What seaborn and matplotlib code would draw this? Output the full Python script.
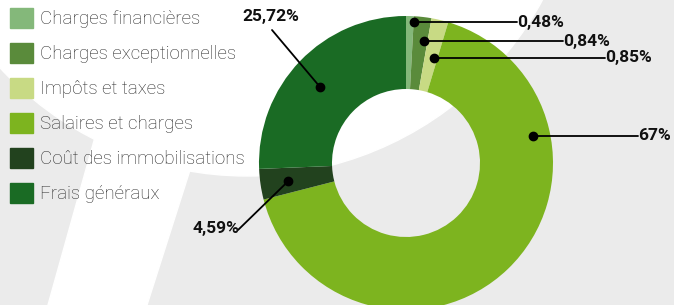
import numpy as np
import matplotlib
matplotlib.use("Agg")
import matplotlib.pyplot as plt
import matplotlib.patches as mpatches
import seaborn as sns

# %%
categories = ["Charges financières", "Charges exceptionnelles", "Impôts et taxes",
              "Salaires et charges", "Coût des immobilisations", "Frais généraux"]
# percentages written on the chart
labels = ["0,48%", "0,84%", "0,85%", "67%", "4,59%", "25,72%"]
# share of the ring each slice takes in the picture (the small ones are drawn bigger)
shares = [0.86, 1.92, 1.86, 66.36, 3.36, 25.64]
colors = ["#84b87a", "#5a8b3b", "#c8da84", "#7db41f", "#22421e", "#1a6b24"]

# %%
sns.set_theme(style="white")
plt.rcParams["font.family"] = ["Roboto", "DejaVu Sans"]

W, H = 674, 305
fig = plt.figure(figsize=(W / 100, H / 100), dpi=100)
ax = fig.add_axes([0, 0, 1, 1])

# background: light grey with a white swoosh
ax.add_patch(mpatches.Rectangle((0, 0), W, H, color="#ebebeb", zorder=0))
ax.add_patch(mpatches.Circle((247, -160), 336, color="white", zorder=0))
ax.add_patch(mpatches.Polygon([(0, 0), (0, 63), (97, 130), (48, 305), (147, 305),
                               (190, 170), (244, 0)], closed=True, color="white", zorder=0))

# donut
cx, cy, r_out, r_in = 406, 163, 147, 74
wedges, _ = ax.pie(shares, colors=colors, center=(cx, cy), radius=r_out,
                   startangle=-90, counterclock=True,
                   wedgeprops=dict(width=r_out - r_in, linewidth=0))

ax.set_xlim(0, W)
ax.set_ylim(H, 0)
ax.set_aspect("equal")
ax.axis("off")

# leader lines: dot (angle from top clockwise, radius), end of line, text spot
dots = [(3.2, 141), (8.4, 123), (14.9, 109), (78, 130), (261.3, 119), (311.5, 115)]
ends = [(517, 22), (563, 41), (605, 58), (638, 136), (238, 230), (272, 30)]
texts = [(517, 21, "left"), (563, 40, "left"), (605, 57, "left"),
         (638, 135, "left"), (239, 228, "right"), (271, 17, "center")]

for lab, (ang, rad), (ex, ey), (tx, ty, ha) in zip(labels, dots, ends, texts):
    dx = cx + rad * np.sin(np.radians(ang))
    dy = cy - rad * np.cos(np.radians(ang))
    if ha == "left":
        ey = dy
        ty = dy
    ax.plot([dx, ex], [dy, ey], color="black", lw=1.3, zorder=3)
    ax.plot(dx, dy, "o", color="black", ms=6, zorder=4)
    ax.text(tx, ty, lab, ha=ha, va="center", fontsize=12.5, fontweight="bold",
            color="#111111", zorder=5)

handles = [mpatches.Patch(color=c, label=n) for c, n in zip(colors, categories)]
ax.legend(handles=handles, loc="upper left", bbox_to_anchor=(10 / W, 1 - 8 / H),
          frameon=False, prop=dict(size=13.5, weight="light"),
          handlelength=1.23, handleheight=1.23,
          handletextpad=0.38, labelspacing=0.795, borderpad=0, borderaxespad=0,
          labelcolor="#2b2b2b")

fig.savefig("out.png", dpi=100)
